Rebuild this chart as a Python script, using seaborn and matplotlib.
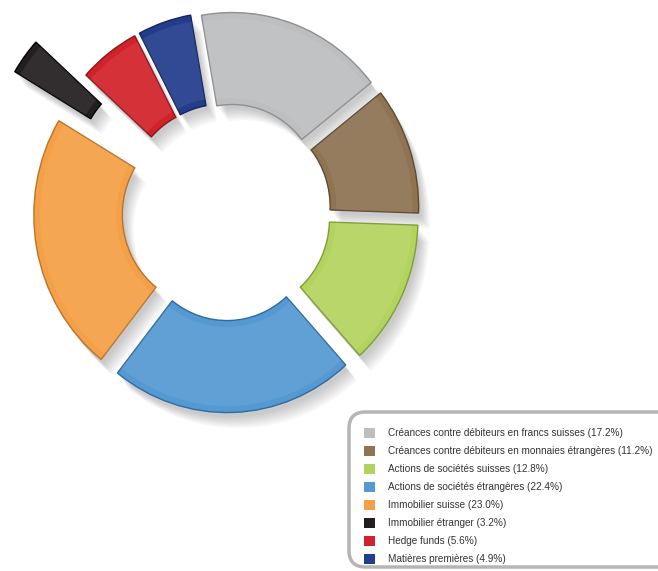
import matplotlib
matplotlib.use("Agg")
import matplotlib.pyplot as plt
import seaborn as sns
from matplotlib.patches import Patch, FancyBboxPatch

categories = [
    "Créances contre débiteurs en francs suisses",
    "Créances contre débiteurs en monnaies étrangères",
    "Actions de sociétés suisses",
    "Actions de sociétés étrangères",
    "Immobilier suisse",
    "Immobilier étranger",
    "Hedge funds",
    "Matières premières",
]
values = [17.2, 11.2, 12.8, 22.4, 23.0, 3.2, 5.6, 4.9]
colors = ["#bdbec0", "#8f7352", "#b3d35f", "#5499d2", "#f5a047", "#231f20", "#d1222b", "#233d8b"]
edge_colors = ["#8e8f91", "#5e4a33", "#7f9c3a", "#2f6aa0", "#b8742c", "#000000", "#8e151b", "#142660"]
explode = [0.09, 0.09, 0.09, 0.09, 0.09, 0.42, 0.09, 0.09]
labels = [f"{c} ({v:.1f}%)" for c, v in zip(categories, values)]

sns.set_theme(style="white")
plt.rcParams["font.family"] = ["Liberation Sans", "DejaVu Sans"]

W, H = 658, 571
fig = plt.figure(figsize=(W / 100, H / 100), dpi=100)
ax = fig.add_axes([0, 0, 1, 1])

start = 100
# soft drop shadow
for i in range(7):
    ax.pie(values, explode=explode, startangle=start, counterclock=False,
           center=(0.015 + 0.008 * i, -0.025 - 0.01 * i), radius=1.0,
           colors=["#000000"] * len(values),
           wedgeprops=dict(width=0.5, alpha=0.03, linewidth=0))

# main wedges
wedges, _ = ax.pie(values, explode=explode, startangle=start, counterclock=False,
                   colors=colors, radius=1.0,
                   wedgeprops=dict(width=0.5, linewidth=1.0))
for w, ec in zip(wedges, edge_colors):
    w.set_edgecolor(ec)

# soft bevel highlight inside each wedge
ax.pie(values, explode=explode, startangle=start, counterclock=False,
       colors=["#ffffff"] * len(values), radius=0.965,
       wedgeprops=dict(width=0.43, alpha=0.07, linewidth=0))

# slightly elliptical ring as in the reference
cx, cy, sx, sy = 226.5, 212, 177, 184
ax.set_xlim(-cx / sx, (W - cx) / sx)
ax.set_ylim(-(H - cy) / sy, cy / sy)
ax.set_aspect("auto")
ax.axis("off")

# rounded legend frame (runs off the right/bottom edge as in the reference)
box = FancyBboxPatch((349 / W, 1 - 567 / H), 340 / W, 155 / H,
                     boxstyle="round,pad=0,rounding_size=0.025",
                     transform=fig.transFigure, facecolor="white",
                     edgecolor="#b5b5b5", linewidth=2.5, mutation_aspect=W / H)
fig.patches.append(box)

handles = [Patch(facecolor=c, edgecolor="none") for c in colors]
leg = fig.legend(handles, labels, loc="upper left",
                 bbox_to_anchor=(364 / W, 1 - 428 / H),
                 fontsize=7.2, frameon=False,
                 handlelength=1.1, handleheight=1.1, handletextpad=1.25,
                 labelspacing=0.78, borderpad=0, borderaxespad=0)
for t in leg.get_texts():
    t.set_color("#333333")

fig.savefig("out.png", dpi=100)
